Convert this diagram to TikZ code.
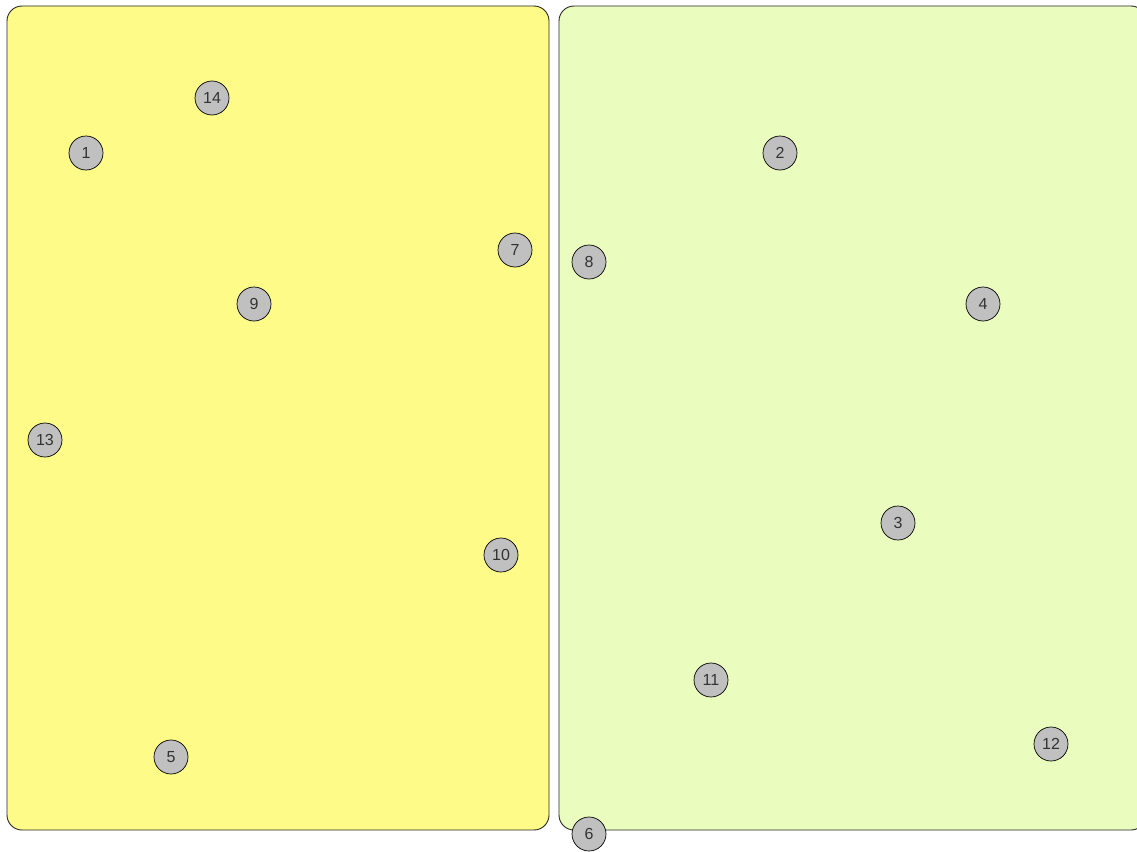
\documentclass[tikz,border=0pt]{standalone}
\usepackage{fontspec}
\setmainfont{Liberation Sans}
\definecolor{leftfill}{HTML}{FFFB88}
\definecolor{rightfill}{HTML}{EBFDBE}
\definecolor{nodegray}{HTML}{C0C0C0}
\begin{document}
\begin{tikzpicture}[x=1pt,y=-1pt,
  group/.style={draw=black!85,line width=0.9pt,rounded corners=15pt},
  vertex/.style={circle,draw=black,line width=0.7pt,fill=nodegray,minimum size=34pt,inner sep=0pt,font=\fontsize{16}{18}\selectfont,text=black!80}]
\useasboundingbox (0,0) rectangle (1137,851);
\begin{scope}
\clip (0,0) rectangle (1137,851);
\path[group,fill=leftfill] (7,6) rectangle (549,830);
\path[group,fill=rightfill] (559,6) rectangle (1146,830);
\node[vertex] (n14) at (212,98) {14};
\node[vertex] (n1) at (86,153) {1};
\node[vertex] (n2) at (780,153) {2};
\node[vertex] (n7) at (515,250) {7};
\node[vertex] (n8) at (589,262) {8};
\node[vertex] (n9) at (254,304) {9};
\node[vertex] (n4) at (983,304) {4};
\node[vertex] (n13) at (45,440) {13};
\node[vertex] (n3) at (898,523) {3};
\node[vertex] (n10) at (501,555) {10};
\node[vertex] (n11) at (711,680) {11};
\node[vertex] (n12) at (1051,744) {12};
\node[vertex] (n5) at (171,757) {5};
\node[vertex] (n6) at (589,834) {6};
\end{scope}
\end{tikzpicture}
\end{document}
